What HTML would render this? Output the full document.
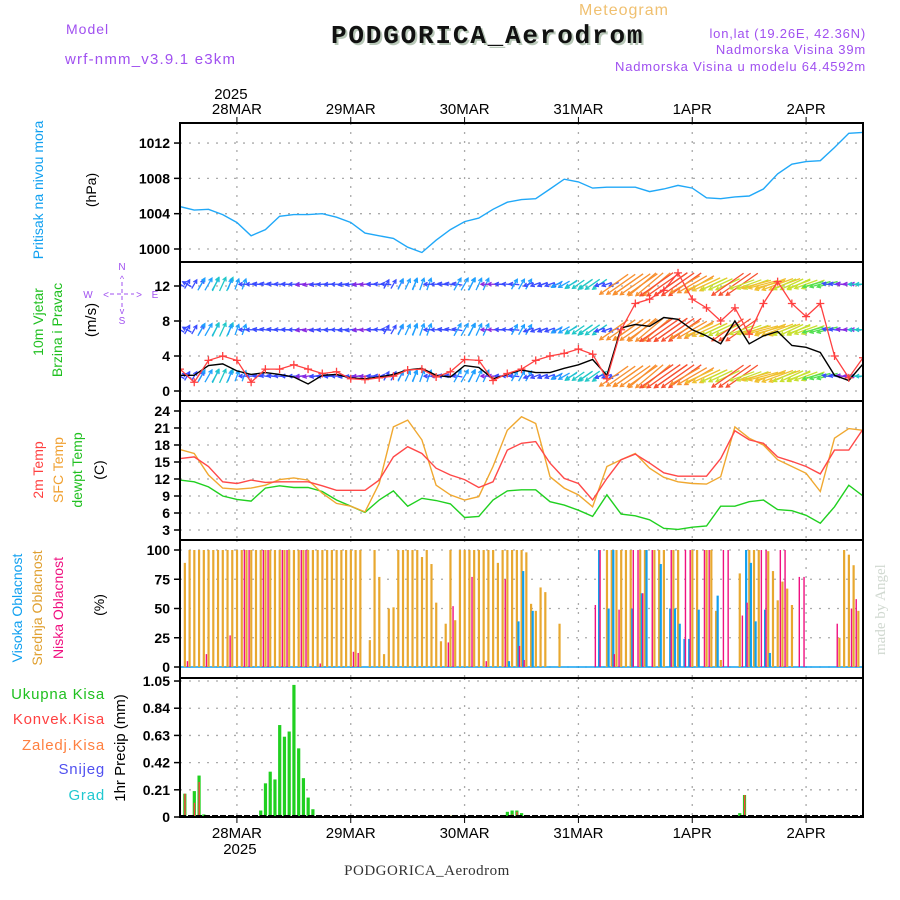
<!DOCTYPE html>
<html><head><meta charset="utf-8"><style>
html,body{margin:0;padding:0;background:#fff;}
svg{display:block;}
text{font-family:"Liberation Sans",sans-serif;}
text.mono{font-family:"Liberation Mono",monospace;}
text.serif{font-family:"Liberation Serif",serif;}
</style></head><body>
<svg id="chart" width="900" height="900" viewBox="0 0 900 900" xmlns="http://www.w3.org/2000/svg">
<text x="624" y="15" font-size="16" fill="#f0c070" text-anchor="middle" letter-spacing="1">Meteogram</text>
<text x="66" y="34" font-size="14" fill="#a050f0" letter-spacing="1">Model</text>
<text x="65" y="64" font-size="15" fill="#a050f0" letter-spacing="1.2">wrf-nmm_v3.9.1 e3km</text>
<text class="mono" x="333" y="45" font-size="26" font-weight="bold" fill="#b8c8b8" letter-spacing="1.8">PODGORICA_Aerodrom</text>
<text class="mono" x="331" y="43" font-size="26" font-weight="bold" fill="#111" letter-spacing="1.8">PODGORICA_Aerodrom</text>
<text x="866" y="38" font-size="13" fill="#a050f0" text-anchor="end" letter-spacing="0.8">lon,lat (19.26E, 42.36N)</text>
<text x="866" y="54" font-size="13" fill="#a050f0" text-anchor="end" letter-spacing="0.8">Nadmorska Visina 39m</text>
<text x="866" y="71" font-size="13" fill="#a050f0" text-anchor="end" letter-spacing="0.8">Nadmorska Visina u modelu 64.4592m</text>
<text class="serif" x="427" y="875" font-size="15" fill="#333" text-anchor="middle" letter-spacing="0.5">PODGORICA_Aerodrom</text>
<text class="serif" transform="translate(885,655) rotate(-90)" font-size="15" fill="#d0d8d0">made by Angel</text>

<text transform="translate(43,190) rotate(-90)" font-size="14" fill="#10a0f0" text-anchor="middle">Pritisak na nivou mora</text>
<text transform="translate(96,190) rotate(-90)" font-size="14" fill="#000" text-anchor="middle">(hPa)</text>
<text transform="translate(43,322) rotate(-90)" font-size="14" fill="#20c020" text-anchor="middle">10m Vjetar</text>
<text transform="translate(62,330) rotate(-90)" font-size="14" fill="#20c020" text-anchor="middle">Brzina i Pravac</text>
<text transform="translate(96,320) rotate(-90)" font-size="15" fill="#000" text-anchor="middle">(m/s)</text>
<g fill="#a050f0" font-size="10" stroke="none">
<text x="122" y="270" text-anchor="middle">N</text><text x="122" y="324" text-anchor="middle">S</text>
<text x="88" y="298" text-anchor="middle">W</text><text x="155" y="298" text-anchor="middle">E</text>
<text x="122" y="282" text-anchor="middle" font-size="9">^</text><text x="122" y="314" text-anchor="middle" font-size="9">v</text>
<text x="106" y="298" text-anchor="middle">&lt;</text><text x="139" y="298" text-anchor="middle">&gt;</text>
<line x1="110" y1="294" x2="134" y2="294" stroke="#a050f0" stroke-dasharray="4,3"/>
<line x1="122" y1="282" x2="122" y2="308" stroke="#a050f0" stroke-dasharray="4,3"/>
</g>
<text transform="translate(43,470) rotate(-90)" font-size="14" fill="#ff4040" text-anchor="middle">2m Temp</text>
<text transform="translate(63,470) rotate(-90)" font-size="14" fill="#f0a030" text-anchor="middle">SFC Temp</text>
<text transform="translate(82,470) rotate(-90)" font-size="14" fill="#20c020" text-anchor="middle">dewpt Temp</text>
<text transform="translate(104,470) rotate(-90)" font-size="14" fill="#000" text-anchor="middle">(C)</text>
<text transform="translate(22,608) rotate(-90)" font-size="14" fill="#10a0f0" text-anchor="middle">Visoka Oblacnost</text>
<text transform="translate(42,608) rotate(-90)" font-size="14" fill="#e0a030" text-anchor="middle">Srednja Oblacnost</text>
<text transform="translate(63,608) rotate(-90)" font-size="14" fill="#f01080" text-anchor="middle">Niska Oblacnost</text>
<text transform="translate(104,605) rotate(-90)" font-size="14" fill="#000" text-anchor="middle">(%)</text>
<g font-size="15" text-anchor="end" letter-spacing="0.8">
<text x="105" y="699" fill="#20c020">Ukupna  Kisa</text>
<text x="105" y="724" fill="#ff4040">Konvek.Kisa</text>
<text x="105" y="750" fill="#ff8040">Zaledj.Kisa</text>
<text x="105" y="774" fill="#5050f0">Snijeg</text>
<text x="105" y="800" fill="#20c8d0">Grad</text>
</g>
<text transform="translate(125,748) rotate(-90)" font-size="15" fill="#000" text-anchor="middle">1hr Precip (mm)</text>
<g id="plots"></g>
</svg>
<script>
// ---- data (t in hours from 27MAR 12UTC) ----
const dayLabels = ["28MAR","29MAR","30MAR","31MAR","1APR","2APR"];
const dayHours = [12,36,60,84,108,132];
const pressTicks = [1000,1004,1008,1012];
const windTicks = [0,4,8,12];
const tempTicks = [3,6,9,12,15,18,21,24];
const cloudTicks = [0,25,50,75,100];
const precipTicks = [0,0.21,0.42,0.63,0.84,1.05];
// 3-hourly series (t = 0,3,...,144)
const pressure = [1004.8,1004.4,1004.5,1003.9,1003.0,1001.5,1002.2,1003.7,1003.9,1003.9,1004.0,1003.6,1003.0,1001.8,1001.5,1001.2,1000.2,999.6,1001.0,1002.2,1003.1,1003.5,1004.5,1005.3,1005.6,1005.7,1006.8,1007.9,1007.6,1006.9,1007.0,1007.0,1007.0,1006.5,1006.8,1007.2,1006.9,1005.8,1005.7,1005.9,1006.0,1006.8,1008.5,1009.6,1009.9,1010.0,1011.5,1013.1,1013.2];
const temp2m = [15.6,15.9,14.2,11.5,11.2,11.8,11.4,11.5,11.5,11.5,10.8,10.0,10.0,10.0,11.8,15.9,17.7,16.5,13.9,12.7,11.9,10.5,11.5,17.1,18.3,18.6,14.8,12.1,11.2,8.3,12.1,15.4,16.4,14.8,13.1,12.5,12.5,12.5,15.6,20.5,18.9,18.3,15.9,15.1,14.2,12.9,17.1,17.1,20.8];
const tempSfc = [17.2,16.5,12.7,10.4,10.2,10.4,10.9,11.9,12.2,11.8,9.5,7.7,7.2,6.2,11.2,21.2,22.4,18.9,10.9,9.2,8.3,8.9,14.2,20.6,23.0,21.8,12.4,10.4,9.2,7.1,14.2,15.4,16.5,13.9,12.3,11.5,11.2,11.1,12.4,21.2,19.2,18.0,15.4,14.2,13.0,9.8,19.2,20.9,20.6];
const dewpoint = [11.8,11.5,10.6,9.0,8.4,8.1,10.4,10.8,10.5,10.5,9.8,8.3,7.2,6.1,8.3,9.9,7.2,8.6,8.2,7.6,5.2,5.4,8.3,9.9,10.1,10.1,8.0,7.4,6.5,5.4,9.2,5.8,5.5,4.8,3.3,3.1,3.5,3.7,7.2,7.2,8.0,8.3,6.6,6.4,5.6,4.2,7.1,10.9,9.0];
const windSpeed = [1.8,1.8,2.9,3.1,2.3,1.9,2.1,1.9,1.6,0.8,1.8,1.9,1.5,1.4,1.6,1.9,2.4,2.6,1.8,1.6,2.9,2.7,1.4,1.9,2.4,2.1,2.1,2.6,3.0,3.6,1.8,7.2,7.6,7.4,8.4,8.2,7.0,6.3,5.4,8.0,5.4,6.3,6.8,5.2,5.0,4.4,1.8,1.2,3.1];
const windGust = [2.5,1.0,3.5,4.0,3.5,1.0,2.5,2.5,3.0,2.5,2.0,2.2,1.4,1.3,1.5,1.7,2.4,2.5,1.6,2.2,3.6,3.5,1.2,2.0,2.5,3.5,4.0,4.3,4.8,4.2,1.4,7.0,10.0,10.5,11.5,13.5,10.5,9.5,8.0,9.5,6.5,10.0,12.5,10.0,8.5,10.0,4.0,1.5,3.8];
// direction the arrow points to, degrees (0=east, 90=north)
const windDir = [150,60,60,65,70,180,170,175,180,190,185,180,190,185,175,60,65,70,180,170,60,65,180,175,60,200,200,210,215,215,200,215,215,220,215,215,210,205,205,215,200,195,200,205,200,195,170,175,180];
// hourly mid cloud (t = 0..144)
const midCloud = [0,89,100,100,100,100,100,100,100,100,100,100,100,100,100,100,100,100,100,100,100,100,100,100,100,100,100,100,100,100,100,100,100,100,100,100,100,100,100,0,23,100,77,11,50,51,100,100,100,100,100,94,100,88,55,22,37,100,40,100,100,100,100,100,100,100,100,89,100,100,100,100,100,98,54,48,68,64,0,0,37,0,0,0,0,0,0,0,0,0,100,100,100,100,100,100,0,100,100,0,100,100,100,0,100,100,0,0,100,100,0,100,100,48,6,0,0,0,80,0,100,100,100,0,99,82,57,73,67,53,0,0,0,0,0,0,0,0,0,25,100,96,87,48,0];
const lowHours = [1,5,10,13,14,17,18,21,22,25,26,29,36,37,56,57,61,64,68,71,72,87,88,91,92,95,96,97,99,103,106,107,110,111,114,115,118,119,122,123,126,127,130,131,138,141,142];
const lowCloud = [5,11,27,100,100,100,100,100,100,100,100,3,13,12,21,52,77,5,75,18,6,53,100,11,49,100,100,63,100,100,100,100,100,100,100,100,44,55,100,100,100,100,77,77,37,50,58];
const highHours = [69,71,72,74,88,90,91,95,97,98,101,103,104,105,106,107,109,113,119,120,121,123,124];
const highCloud = [5,39,82,48,100,50,100,50,63,100,88,50,50,37,24,24,49,61,100,89,39,49,12];
const rainHours = [1,3,4,5,17,18,19,20,21,22,23,24,25,26,27,28,57,69,70,71,72,118,119,144];
const rainTotal = [0.18,0.20,0.32,0.02,0.05,0.26,0.35,0.29,0.71,0.62,0.66,1.02,0.53,0.30,0.15,0.06,0.01,0.04,0.05,0.05,0.03,0.03,0.17,0.01];
const rainConv = [0.18,0.11,0.27,0,0,0,0,0,0,0,0,0,0,0,0,0.01,0.01,0,0.02,0.04,0,0,0.17,0.01];

// ---- axes ----
const L=180,R=863;
const X = t => L + t*(R-L)/144;
const P1={top:123,bot:262}, P2={top:262,bot:401}, P3={top:401,bot:540}, P4={top:540,bot:678}, P5={top:678,bot:817};
const yP = v => 249 - (v-1000)*8.83;
const yW = v => 391 - v*8.75;
const yT = v => 530 - (v-3)*5.667;
const yC = v => 667 - v*1.17;
const yR = v => 817 - v*129.5;
const NS="http://www.w3.org/2000/svg";
const root=document.getElementById('plots');
function mk(tag,attrs,parent){const e=document.createElementNS(NS,tag);for(const k in attrs)e.setAttribute(k,attrs[k]);(parent||root).appendChild(e);return e;}
function txt(s,attrs,parent){const e=mk('text',attrs,parent);e.textContent=s;return e;}

const defs=mk('defs',{});
[P1,P2,P3,P4,P5].forEach((p,i)=>{const c=mk('clipPath',{id:'clip'+i},defs);mk('rect',{x:L,y:p.top,width:R-L,height:p.bot-p.top},c);});

function grid(p,ticks,yf,fmt,name){
  const g=mk('g',{});
  
  
  ticks.forEach(v=>{const y=yf(v);
    mk('line',{x1:L,x2:R,y1:y,y2:y,stroke:'#aaa','stroke-dasharray':'2,7','stroke-width':1.3},g);
    mk('line',{x1:L-6,x2:L,y1:y,y2:y,stroke:'#000','stroke-width':1.5},g);
    const t=txt(fmt(v),{x:L-10,y:y+5,'font-size':14,'font-weight':'bold','text-anchor':'end',fill:'#000'},g);
    
    
  });
  dayHours.forEach(h=>{const x=X(h);mk('line',{x1:x,x2:x,y1:p.top,y2:p.bot,stroke:'#aaa','stroke-dasharray':'2,7','stroke-width':1.3},g);});
}
grid(P1,pressTicks,yP,v=>String(v),'pressure');
grid(P2,windTicks,yW,v=>String(v),'wind');
grid(P3,tempTicks,yT,v=>String(v),'temp');
grid(P4,cloudTicks,yC,v=>String(v),'cloud');
grid(P5,precipTicks,yR,v=>v===0?'0':v.toFixed(2),'precip');

dayHours.forEach((h,i)=>{const x=X(h);
  mk('line',{x1:x,x2:x,y1:117,y2:123,stroke:'#000'});
  mk('line',{x1:x,x2:x,y1:817,y2:823,stroke:'#000'});
  const a=txt(dayLabels[i],{x:x,y:114,'font-size':15,'text-anchor':'middle',fill:'#000'});
  
  
  const b=txt(dayLabels[i],{x:x,y:838,'font-size':15,'text-anchor':'middle',fill:'#000'});
  
  
});
const y1=txt('2025',{x:X(12)-6,y:99,'font-size':15,'text-anchor':'middle',fill:'#000'});


const y2=txt('2025',{x:X(12)+3,y:854,'font-size':15,'text-anchor':'middle',fill:'#000'});



function line(arr,yf,color,name,clip){
  const pts=arr.map((v,i)=>X(i*3).toFixed(1)+','+yf(v).toFixed(1)).join(' ');
  const e=mk('polyline',{points:pts,fill:'none',stroke:color,'stroke-width':1.4,'clip-path':'url(#'+clip+')'});
  
  
  return e;
}
line(pressure,yP,'#20a8f8','pressure-line','clip0');

// wind
function windColor(s){
  if(s<1.5)return '#8a2be2'; if(s<2.2)return '#3a4cff'; if(s<3)return '#20a0ff'; if(s<4)return '#20c8c8';
  if(s<5)return '#50e050'; if(s<6)return '#c8e030'; if(s<7)return '#f0c030'; if(s<8)return '#f89030';
  if(s<9.5)return '#f85030'; return '#f01880';
}
const wg=mk('g',{'clip-path':'url(#clip1)'});


const rows=[12.2,7.0,1.7];
const strokeOffsets=[-1.5,0,1.5]; // hatch strokes per sample (render density only)
rows.forEach(r=>{
  windSpeed.forEach((s,i)=>{
    const len=Math.max(10,s*4.8), a=windDir[i]*Math.PI/180;
    const dx=Math.cos(a)*len, dy=-Math.sin(a)*len;
    const col=windColor(s);
    const g=mk('g',{stroke:col,'stroke-width':1.3,fill:'none'},wg);
    
    
    strokeOffsets.forEach(o=>{
      const cx=X(i*3+o), cy=yW(r);
      const x1=cx-dx/2,y1=cy-dy/2,x2=cx+dx/2,y2=cy+dy/2;
      const h=4, ang=Math.atan2(y2-y1,x2-x1);
      mk('line',{x1:x1,y1:y1,x2:x2,y2:y2},g);
      mk('polyline',{points:`${x2-h*Math.cos(ang-0.5)},${y2-h*Math.sin(ang-0.5)} ${x2},${y2} ${x2-h*Math.cos(ang+0.5)},${y2-h*Math.sin(ang+0.5)}`},g);
    });
  });
});
line(windSpeed,yW,'#000','wind-speed-line','clip1');
const gg=mk('g',{'clip-path':'url(#clip1)',stroke:'#ff4040','stroke-width':1.3,fill:'none'});


mk('polyline',{points:windGust.map((v,i)=>X(i*3)+','+yW(v)).join(' ')},gg);
windGust.forEach((v,i)=>{const x=X(i*3),y=yW(v);
  const p=mk('path',{d:`M${x-4},${y}h8M${x},${y-4}v8`},gg);
  
  
});

// temps
line(dewpoint,yT,'#20d020','dewpoint-line','clip2');
line(tempSfc,yT,'#f0a830','sfc-temp-line','clip2');
line(temp2m,yT,'#ff4848','temp-2m-line','clip2');

// clouds
const cg=mk('g',{'clip-path':'url(#clip3)'});


mk('line',{x1:L,x2:R,y1:yC(0),y2:yC(0),stroke:'#10a0f0','stroke-width':1.5},cg);
midCloud.forEach((v,t)=>{ if(v<=0)return;
  const b=mk('rect',{x:X(t)-1,y:yC(v),width:2.2,height:yC(0)-yC(v),fill:'#e8a830'},cg);
  
  
});
highHours.forEach((t,i)=>{const v=highCloud[i];
  const b=mk('rect',{x:X(t)+0.6,y:yC(v),width:2.2,height:yC(0)-yC(v),fill:'#10a0f0'},cg);
  
  
});
lowHours.forEach((t,i)=>{const v=lowCloud[i];
  const b=mk('rect',{x:X(t)+2,y:yC(v),width:1.4,height:yC(0)-yC(v),fill:'#f01080'},cg);
  
  
});

// precip
const pg=mk('g',{'clip-path':'url(#clip4)'});


rainHours.forEach((t,i)=>{
  const v=rainTotal[i], c=rainConv[i], x=X(t);
  const b=mk('rect',{x:x-1.5,y:yR(v),width:3.2,height:yR(0)-yR(v),fill:'#20d020'},pg);
  
  
  if(c>0){const r=mk('rect',{x:x-0.5,y:yR(c),width:1.4,height:yR(0)-yR(c),fill:'#ff4040'},pg);
    
    }
});
mk('line',{x1:L,x2:R,y1:816,y2:816,stroke:'#000','stroke-width':2,'stroke-dasharray':'6,2'});

[P1,P2,P3,P4,P5].forEach((p,i)=>{
  const f=mk('rect',{x:L,y:p.top,width:R-L,height:p.bot-p.top,fill:'none',stroke:'#000','stroke-width':2});
  
  
});
</script>
</body></html>
